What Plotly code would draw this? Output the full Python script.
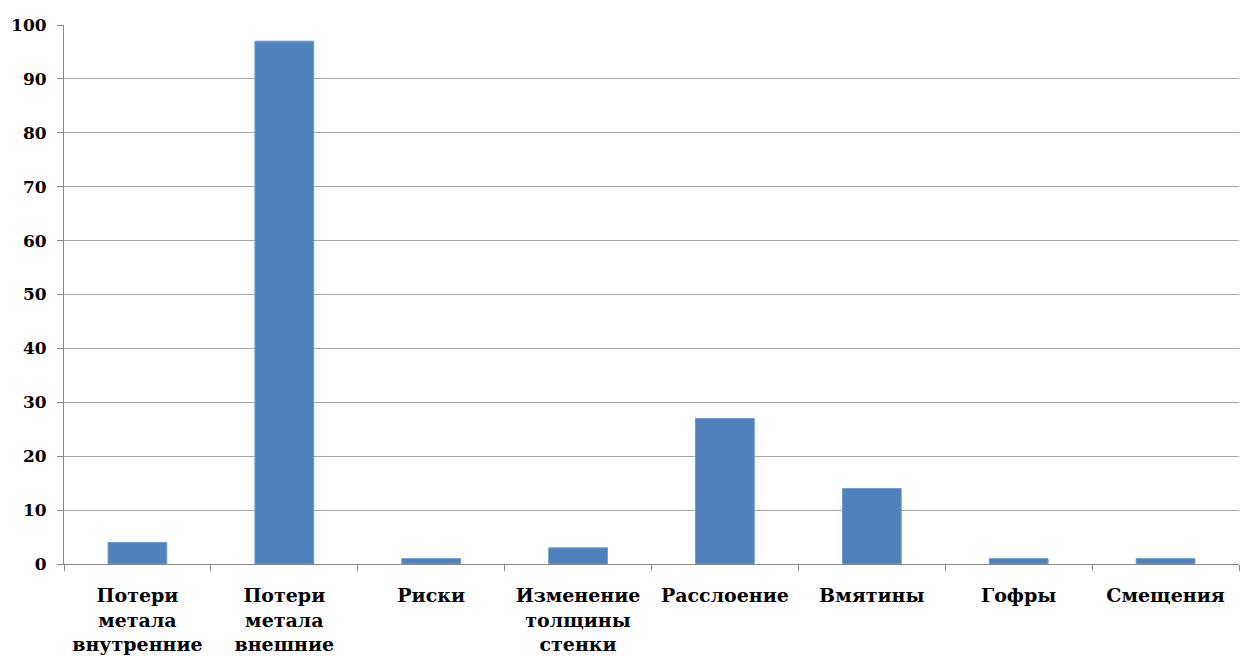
import plotly.graph_objects as go

categories = ["Потери<br>метала<br>внутренние", "Потери<br>метала<br>внешние", "Риски",
              "Изменение<br>толщины<br>стенки", "Расслоение", "Вмятины", "Гофры", "Смещения"]
values = [4, 97, 1, 3, 27, 14, 1, 1]
y_ticks = [0, 10, 20, 30, 40, 50, 60, 70, 80, 90, 100]

FONT = "DejaVu Serif"

fig = go.Figure(go.Bar(x=categories, y=values, marker=dict(color="#4f81bd", line=dict(color="#6f9bd0", width=1))))

fig.update_layout(
    width=1240, height=657,
    margin=dict(l=64, r=1, t=25, b=93),
    plot_bgcolor="white", paper_bgcolor="white",
    bargap=0.6, showlegend=False,
    font=dict(family=FONT, size=18, color="black"),
)
fig.update_xaxes(
    type="category", tickson="boundaries", ticks="outside", ticklen=6, tickcolor="#888888",
    showline=True, linecolor="#888888", linewidth=1, ticklabelstandoff=14,
    tickfont=dict(family=FONT, size=19, color="black", weight="bold"),
)
fig.update_yaxes(
    range=[0, 100], tickvals=y_ticks, ticks="outside", ticklen=6, tickcolor="#888888",
    showline=True, linecolor="#888888", linewidth=1, ticklabelstandoff=7,
    showgrid=True, gridcolor="#a6a6a6", gridwidth=1, zeroline=False,
    tickfont=dict(family=FONT, size=17, color="black", weight="bold"),
)
fig.write_html("out.html")
